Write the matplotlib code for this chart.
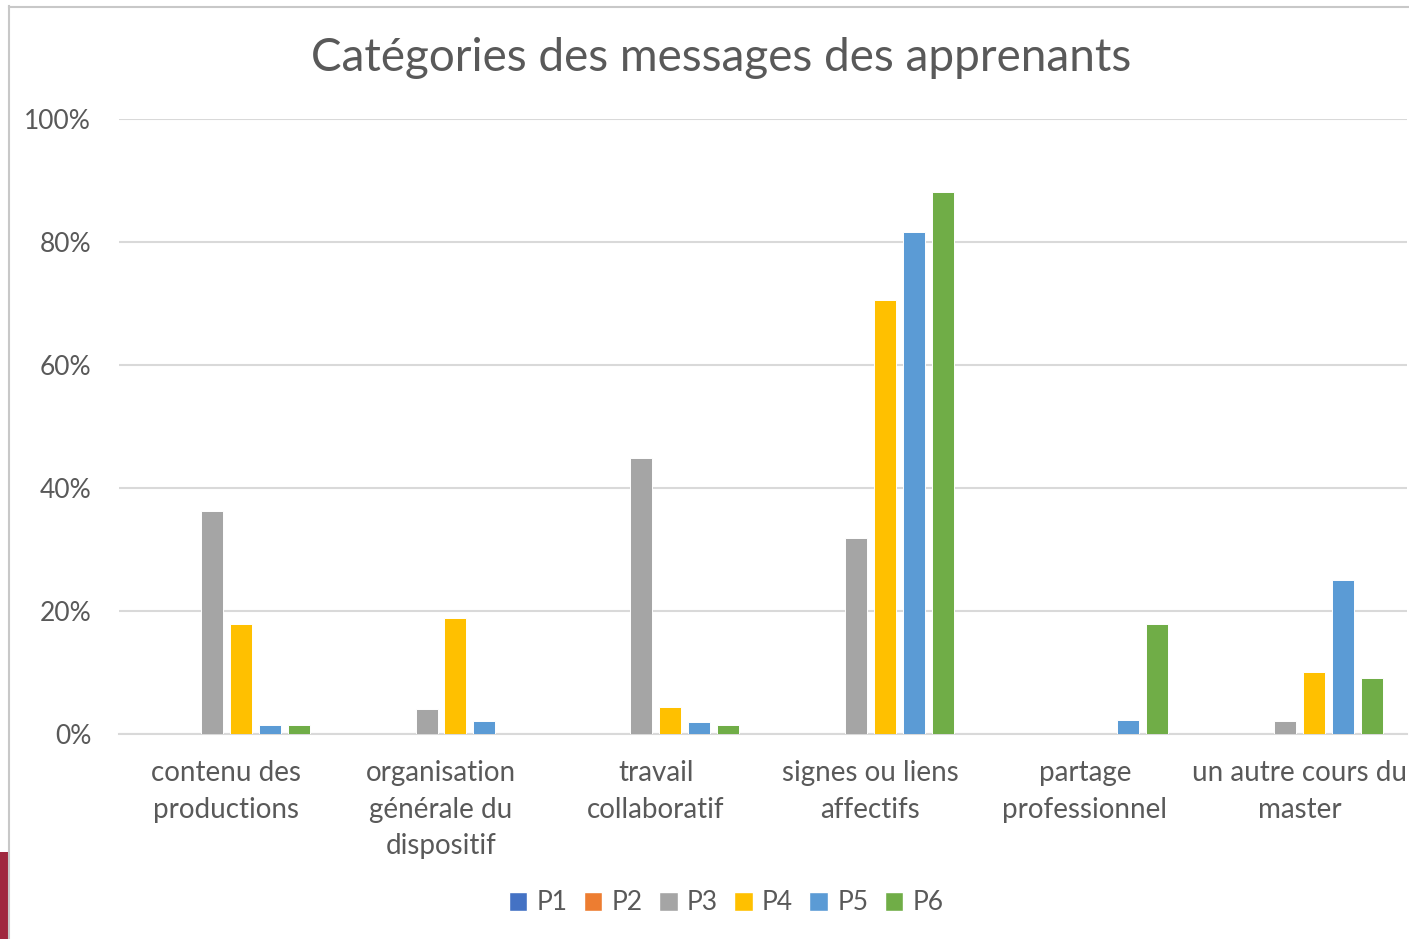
import matplotlib
matplotlib.use("Agg")
import matplotlib.pyplot as plt
from matplotlib.patches import Rectangle
from matplotlib.lines import Line2D
import numpy as np

categories = ["contenu des\nproductions", "organisation\ngénérale du\ndispositif",
              "travail\ncollaboratif", "signes ou liens\naffectifs",
              "partage\nprofessionnel", "un autre cours du\nmaster"]
series_names = ["P1", "P2", "P3", "P4", "P5", "P6"]
P1 = [0, 0, 0, 0, 0, 0]
P2 = [0, 0, 0, 0, 0, 0]
P3 = [0.363, 0.041, 0.449, 0.319, 0.0, 0.021]
P4 = [0.179, 0.189, 0.044, 0.706, 0.0, 0.101]
P5 = [0.015, 0.021, 0.020, 0.816, 0.023, 0.250]
P6 = [0.015, 0.0, 0.015, 0.881, 0.179, 0.091]
series_values = [P1, P2, P3, P4, P5, P6]
colors = ["#4472C4", "#ED7D31", "#A5A5A5", "#FFC000", "#5B9BD5", "#70AD47"]
yticks = [0, 0.2, 0.4, 0.6, 0.8, 1.0]
ytick_labels = ["0%", "20%", "40%", "60%", "80%", "100%"]
title = "Catégories des messages des apprenants"

plt.rcParams['font.family'] = ['Lato', 'DejaVu Sans']
txt = "#595959"

W, H = 1409, 939
fig = plt.figure(figsize=(W / 100, H / 100), dpi=100)
ax = fig.add_axes([119 / W, 1 - 734 / H, (1407 - 119) / W, (734 - 119) / H])

x = np.arange(len(categories))
bw = 0.1025
step = 0.135
for i, (name, vals, c) in enumerate(zip(series_names, series_values, colors)):
    ax.bar(x + (i - 2.5) * step, vals, width=bw, color=c, label=name,
           edgecolor="white", linewidth=0.7, zorder=3)

ax.set_xlim(-0.5, len(categories) - 0.5)
ax.set_ylim(0, 1.0)
ax.set_yticks(yticks)
ax.set_yticklabels(ytick_labels)
ax.yaxis.grid(True, color="#D9D9D9", linewidth=1.5, zorder=0)
ax.set_axisbelow(True)
for s in ["top", "right", "left"]:
    ax.spines[s].set_visible(False)
ax.spines["bottom"].set_color("#D9D9D9")
ax.spines["bottom"].set_linewidth(1.5)
ax.tick_params(axis="y", length=0, pad=20, labelsize=19, labelcolor=txt)
ax.tick_params(axis="x", length=0, pad=19, labelsize=20, labelcolor=txt)
ax.set_xticks(x)
ax.set_xticklabels(categories, linespacing=1.5)

fig.text(721 / W, 1 - 58 / H, title, ha="center", va="center", fontsize=33, color=txt)

handles = [Rectangle((0, 0), 1, 1, facecolor=c, edgecolor="white") for c in colors]
fig.legend(handles, series_names, loc="center", bbox_to_anchor=(726 / W, 1 - 903 / H),
           ncol=6, frameon=False, fontsize=19, labelcolor=txt,
           handlelength=0.7, handleheight=0.7, handletextpad=0.35, columnspacing=0.62)

# frame border and slide artifact
fig.add_artist(Line2D([8.5 / W, 8.5 / W], [0, 1 - 6 / H], transform=fig.transFigure,
                      color="#C8C8C8", linewidth=1.5))
fig.add_artist(Line2D([8.5 / W, 1], [1 - 6.5 / H, 1 - 6.5 / H], transform=fig.transFigure,
                      color="#C8C8C8", linewidth=1.5))
fig.add_artist(Rectangle((0, 0), 8 / W, (939 - 852) / H, transform=fig.transFigure,
                         facecolor="#A0283F", edgecolor="none"))

fig.savefig("out.png", dpi=100)
